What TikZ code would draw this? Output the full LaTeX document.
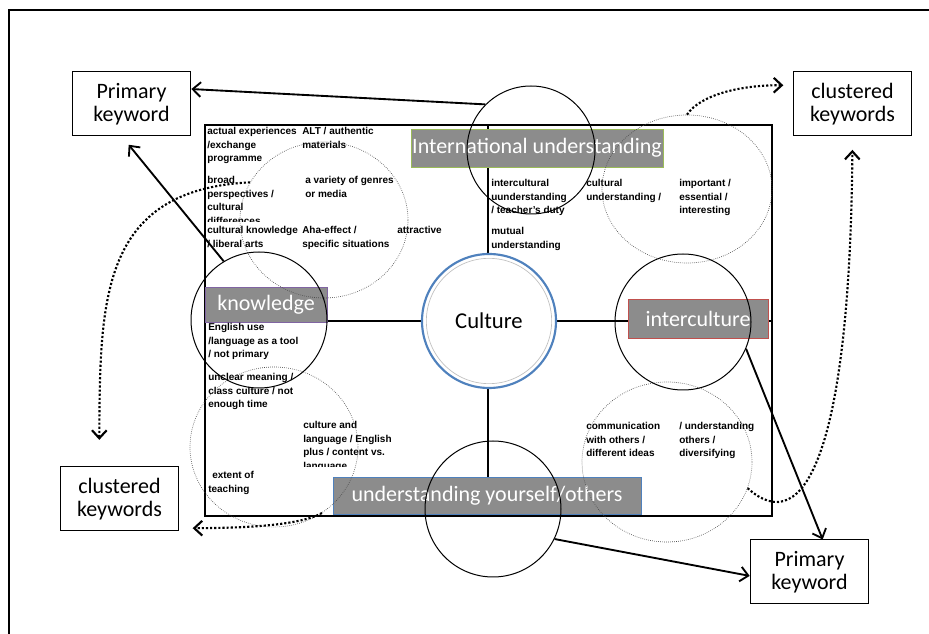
\documentclass[tikz,border=0pt]{standalone}
\usepackage{fontspec}
\setmainfont{Liberation Sans}
\newfontfamily\calibri{Carlito}
\usetikzlibrary{arrows.meta,shapes.geometric,calc}
\tikzset{>={Straight Barb[length=6pt,width=11pt]}}
\definecolor{tgreen}{RGB}{155,187,89}
\definecolor{tpurple}{RGB}{128,100,162}
\definecolor{tred}{RGB}{192,80,77}
\definecolor{tblue}{RGB}{79,129,189}

\begin{document}
\begin{tikzpicture}[x=0.75pt,y=-0.75pt,font=\bfseries\fontsize{7.5}{10.2}\selectfont]
\tikzstyle{kw}=[draw,line width=0.75pt,minimum width=89pt,minimum height=48pt,align=center,inner sep=0,font=\calibri\fontsize{16.5}{17.5}\selectfont]
\tikzstyle{ring}=[circle,draw,line width=0.75pt,minimum size=102pt,inner sep=0]
\tikzstyle{cloud}=[ellipse,draw=black!70,densely dotted,line width=0.5pt,inner sep=0]
\tikzstyle{tag}=[fill=black!45,text=white,line width=0.6pt,inner sep=0,font=\calibri\fontsize{16.5}{18}\selectfont]
\tikzstyle{txt}=[anchor=north west,align=left,inner sep=0]
\tikzstyle{arr}=[->,line width=1.4pt]
\tikzstyle{dotarr}=[->,line width=1.6pt,dash pattern=on 1.6pt off 1.5pt]

\useasboundingbox (0,0) rectangle (929,634);
\draw[line width=1.6pt] (9,634) -- (9,10) -- (929,10);

% quadrants
\draw[line width=0.9pt] (205,125) rectangle (772,516);
\draw[line width=0.9pt] (205,321) -- (772,321) (488,125) -- (488,516);

\node[circle,draw=tblue,line width=1.6pt,fill=white,minimum size=100.5pt,inner sep=0] (culture) at (489,321) {};
\node[circle,draw=black!25,line width=0.5pt,minimum size=94pt,inner sep=0,font=\calibri\fontsize{17}{20}\selectfont] at (culture) {Culture};

% headings
\node[tag,draw=tgreen,minimum width=189pt,minimum height=28.5pt] (intl) at (537,148) {International understanding};
\node[tag,draw=tpurple,minimum width=91.5pt,minimum height=26.25pt] (knowtag) at (266,304.5) {knowledge};
\node[tag,draw=tred,minimum width=105pt,minimum height=29.25pt] (intertag) at (698,318.5) {interculture};
\node[tag,draw=tblue,minimum width=231pt,minimum height=27.75pt] (selftag) at (487,495.5) {understanding yourself/others};

% top left
\node[txt] (t1) at (207,127) {actual experiences\\/exchange\\programme};
\node[txt] (t2) at (302,127) {ALT / authentic\\materials};
\begin{scope}
\clip (200,170) rectangle (300,222);
\node[txt] (t3) at (207,176) {broad\\perspectives /\\cultural\\differences};
\end{scope}
\node[txt] (t4) at (305,176) {a variety of genres\\or media};
\node[txt] (t5) at (207,226) {cultural knowledge\\/ liberal arts};
\node[txt] (t6) at (302,226) {Aha-effect /\\specific situations};
\node[txt] (t7) at (397,226) {attractive};
% top right
\node[txt] (t8) at (491,179) {intercultural\\uunderstanding\\/ teacher's duty};
\node[txt] (t9) at (491,227) {mutual\\understanding};
\node[txt] (t10) at (586,179) {cultural\\understanding /};
\node[txt] (t11) at (679,179) {important /\\essential /\\interesting};
% bottom left
\node[txt] (t12) at (208,323) {English use\\/language as a tool\\/ not primary};
\node[txt] (t13) at (208,373) {unclear meaning /\\class culture / not\\enough time};
\begin{scope}
\clip (300,410) rectangle (430,467);
\node[txt] (t14) at (303,421) {culture and\\language / English\\plus / content vs.\\language};
\end{scope}
\node[txt] (t15) at (208,471) {\hspace*{3pt}extent of\\teaching};
% bottom right
\node[txt] (t16) at (586,422) {communication\\with others /\\different ideas};
\node[txt] (t17) at (679,422) {/ understanding\\others /\\diversifying};

% clusters
\node[cloud,minimum width=126pt,minimum height=117pt] (dotTL) at (324,220) {};
\node[cloud,minimum width=127.5pt,minimum height=111pt] (dotTR) at (687,189) {};
\node[cloud,minimum width=126pt,minimum height=120pt] (dotBL) at (274,447) {};
\node[cloud,minimum width=127.5pt,minimum height=120pt] (dotBR) at (667,462) {};

% primary circles
\node[ring,minimum size=96pt] (top) at (531,150) {};
\node[ring] (know) at (259,320) {};
\node[ring] (inter) at (683,322) {};
\node[ring] (self) at (493,509) {};

% keyword boxes
\node[kw] (pkTL) at (131.5,104) {Primary\\keyword};
\node[kw] (ckTR) at (852.5,104) {clustered\\keywords};
\node[kw] (ckBL) at (119.5,499) {clustered\\keywords};
\node[kw] (pkBR) at (809.5,572) {Primary\\keyword};

% links
\draw[arr] (top.135) -- ($(pkTL.north east)!0.27!(pkTL.south east)$);
\draw[arr,shorten >=8pt] (know.121) -- ($(pkTL.south west)!0.42!(pkTL.south east)$);
\draw[arr] (inter.-23) -- ($(pkBR.north west)!0.61!(pkBR.north east)$);
\draw[arr] (self.-26) -- ($(pkBR.north west)!0.56!(pkBR.south west)$);

\draw[dotarr,shorten >=7pt] (dotTR.north) .. controls (700,95) and (740,85) .. ([yshift=14pt]ckTR.west);
\draw[dotarr,shorten >=10pt] (dotBR.-18) .. controls (805,540) and (850,450) .. (ckTR.south);
\draw[dotarr,shorten >=20pt] (dotTL.153) .. controls (100,190) and (100,300) .. ($(ckBL.north west)!0.33!(ckBL.north east)$);
\draw[dotarr,shorten >=10pt] (dotBL.-54) .. controls (300,525) and (250,528) .. ($(ckBL.north east)!0.95!(ckBL.south east)$);
\end{tikzpicture}
\end{document}
